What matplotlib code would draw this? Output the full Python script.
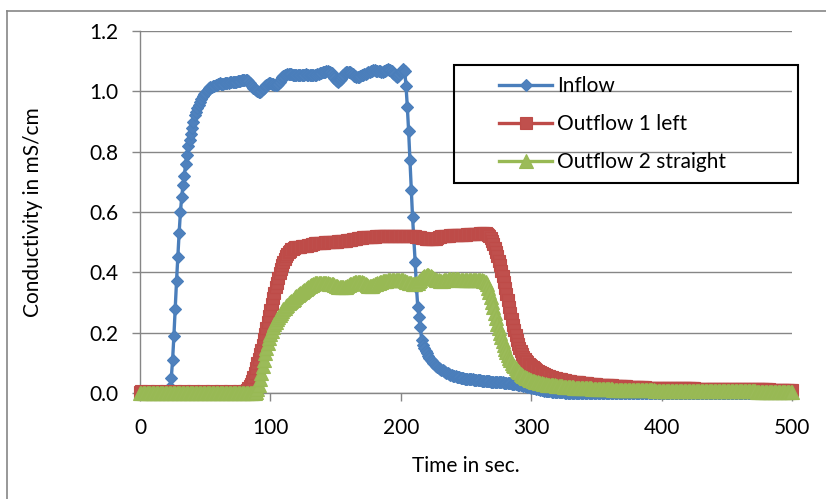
import numpy as np
import matplotlib
matplotlib.use("Agg")
import matplotlib.pyplot as plt
from matplotlib.lines import Line2D
from matplotlib.patches import Rectangle
from matplotlib.ticker import FormatStrFormatter

# ---------------- data (1 s sampling, t = 0 ... 500 s) ----------------
time_s = np.arange(0, 501)

x_ticks = [0, 100, 200, 300, 400, 500]
y_ticks = [0.0, 0.2, 0.4, 0.6, 0.8, 1.0, 1.2]
series_names = ["Inflow", "Outflow 1 left", "Outflow 2 straight"]

# Inflow
inflow_base = [
    0.000, 0.000, 0.000, 0.000, 0.000, 0.000, 0.000, 0.000, 0.000, 0.000,
    0.000, 0.000, 0.000, 0.000, 0.000, 0.000, 0.000, 0.000, 0.000, 0.000,
    0.000, 0.000]
inflow_rise = [
    0.005, 0.020, 0.050, 0.110, 0.190, 0.280, 0.370, 0.450, 0.530, 0.600,
    0.650, 0.690, 0.720, 0.760, 0.790, 0.820, 0.840, 0.860, 0.880, 0.900,
    0.920, 0.930, 0.945, 0.955, 0.965, 0.975, 0.985, 0.990, 0.995, 1.000,
    1.005, 1.010, 1.013]
inflow_plateau = [
    1.015, 1.017, 1.018, 1.020, 1.022, 1.024,
    1.026, 1.025, 1.024, 1.025, 1.027, 1.028, 1.027, 1.028, 1.030, 1.031,
    1.032, 1.030, 1.031, 1.032, 1.033, 1.034, 1.035, 1.036, 1.037, 1.038,
    1.038, 1.037, 1.033, 1.028, 1.022, 1.017, 1.012, 1.008, 1.004, 1.001,
    0.999, 0.998, 1.002, 1.007, 1.012, 1.017, 1.021, 1.024, 1.026, 1.026,
    1.025, 1.023, 1.022, 1.021, 1.020, 1.025, 1.032, 1.040, 1.046, 1.050,
    1.053, 1.055, 1.056, 1.057, 1.057, 1.056, 1.055, 1.055, 1.054, 1.054,
    1.053, 1.053, 1.054, 1.054, 1.054, 1.055, 1.056, 1.055, 1.054, 1.053,
    1.053, 1.053, 1.054, 1.055, 1.055, 1.056, 1.058, 1.060, 1.062, 1.063,
    1.064, 1.065, 1.066, 1.066, 1.065, 1.065, 1.060, 1.052, 1.044, 1.038,
    1.034, 1.032, 1.036, 1.042, 1.049, 1.055, 1.060, 1.063, 1.065, 1.065,
    1.063, 1.060, 1.056, 1.052, 1.050, 1.049, 1.048, 1.049, 1.051, 1.053,
    1.055, 1.057, 1.059, 1.061, 1.063, 1.065, 1.067, 1.069, 1.070, 1.070,
    1.069, 1.068, 1.067, 1.066, 1.065, 1.065, 1.066, 1.068, 1.071, 1.073,
    1.072, 1.070, 1.066, 1.061, 1.056, 1.051, 1.048, 1.050, 1.056, 1.063,
    1.069, 1.073, 1.068]
inflow_fall = [
    1.018, 0.949, 0.868, 0.772, 0.673, 0.584, 0.510, 0.435, 0.352, 0.286,
    0.253, 0.220, 0.176]
inflow_tail = [
    0.160, 0.150, 0.140, 0.131, 0.124, 0.117, 0.111, 0.105, 0.100, 0.095,
    0.091, 0.087, 0.083, 0.079,
    0.077, 0.075, 0.072, 0.070, 0.067, 0.065, 0.063, 0.061, 0.059, 0.057,
    0.056, 0.055, 0.054, 0.053, 0.052, 0.051, 0.050, 0.049, 0.048, 0.047,
    0.047, 0.046, 0.046, 0.045, 0.045, 0.044, 0.044, 0.043, 0.043, 0.042,
    0.042, 0.041, 0.041, 0.040, 0.040, 0.040, 0.039, 0.039, 0.038, 0.038,
    0.038, 0.037, 0.037, 0.036, 0.036, 0.036, 0.035, 0.035, 0.034, 0.034,
    0.033, 0.033, 0.032, 0.032, 0.031, 0.031, 0.030, 0.029, 0.029, 0.028,
    0.027, 0.026, 0.025, 0.024, 0.023, 0.022, 0.021, 0.020, 0.019, 0.018,
    0.017, 0.016, 0.015, 0.014, 0.013, 0.012, 0.011, 0.010, 0.009, 0.008,
    0.007, 0.006, 0.006, 0.005, 0.005, 0.004, 0.004, 0.003, 0.003, 0.003,
    0.002, 0.002, 0.002, 0.002, 0.002, 0.001, 0.001, 0.001, 0.001, 0.001]
inflow_end = [
    0.000, 0.000, 0.000, 0.000, 0.000, 0.000, 0.000, 0.000, 0.000, 0.000,
    0.000, 0.000, 0.000, 0.000, 0.000, 0.000, 0.000, 0.000, 0.000, 0.000,
    0.000, 0.000, 0.000, 0.000, 0.000, 0.000, 0.000, 0.000, 0.000, 0.000,
    0.000, 0.000, 0.000, 0.000, 0.000, 0.000, 0.000, 0.000, 0.000, 0.000,
    0.000, 0.000, 0.000, 0.000, 0.000, 0.000, 0.000, 0.000, 0.000, 0.000,
    0.000, 0.000, 0.000, 0.000, 0.000, 0.000, 0.000, 0.000, 0.000, 0.000,
    0.000, 0.000, 0.000, 0.000, 0.000, 0.000, 0.000, 0.000, 0.000, 0.000,
    0.000, 0.000, 0.000, 0.000, 0.000, 0.000, 0.000, 0.000, 0.000, 0.000,
    0.000, 0.000, 0.000, 0.000, 0.000, 0.000, 0.000, 0.000, 0.000, 0.000,
    0.000, 0.000, 0.000, 0.000, 0.000, 0.000, 0.000, 0.000, 0.000, 0.000,
    0.000, 0.000, 0.000, 0.000, 0.000, 0.000, 0.000, 0.000, 0.000, 0.000,
    0.000, 0.000, 0.000, 0.000, 0.000, 0.000, 0.000, 0.000, 0.000, 0.000,
    0.000, 0.000, 0.000, 0.000, 0.000, 0.000, 0.000, 0.000, 0.000, 0.000,
    0.000, 0.000, 0.000, 0.000, 0.000, 0.000, 0.000, 0.000, 0.000, 0.000,
    0.000, 0.000, 0.000, 0.000, 0.000, 0.000, 0.000, 0.000, 0.000, 0.000,
    0.000, 0.000, 0.000, 0.000, 0.000, 0.000, 0.000, 0.000, 0.000, 0.000,
    0.000, 0.000, 0.000, 0.000, 0.000, 0.000, 0.000, 0.000, 0.000, 0.000]

# Outflow 1 left
out1_base = [
    0.004, 0.005, 0.004, 0.004, 0.003, 0.004, 0.005, 0.004, 0.004, 0.004,
    0.003, 0.004, 0.004, 0.005, 0.004, 0.004, 0.004, 0.003, 0.004, 0.004,
    0.005, 0.004, 0.004, 0.004, 0.003, 0.004, 0.004, 0.005, 0.004, 0.004,
    0.004, 0.003, 0.004, 0.004, 0.005, 0.004, 0.004, 0.004, 0.003, 0.004,
    0.004, 0.005, 0.004, 0.004, 0.004, 0.003, 0.004, 0.004, 0.005, 0.004,
    0.004, 0.004, 0.003, 0.004, 0.004, 0.005, 0.004, 0.004, 0.004, 0.003,
    0.004, 0.004, 0.005, 0.004, 0.004, 0.004, 0.003, 0.004, 0.004, 0.005,
    0.004, 0.004, 0.004, 0.003, 0.004, 0.004, 0.005, 0.004, 0.004, 0.004,
    0.005]
out1_rise = [
    0.006, 0.010, 0.015, 0.022, 0.030, 0.040, 0.052, 0.066, 0.082, 0.098,
    0.113, 0.128, 0.143, 0.160, 0.178, 0.196, 0.215, 0.235, 0.255, 0.275,
    0.295, 0.315, 0.333, 0.350, 0.366, 0.382, 0.397, 0.411, 0.424, 0.435,
    0.445, 0.454, 0.461, 0.467, 0.472, 0.476, 0.479, 0.481, 0.483, 0.484]
out1_plateau = [
    0.484, 0.485, 0.485, 0.486, 0.486, 0.487, 0.487, 0.488, 0.489, 0.490,
    0.492, 0.494, 0.495, 0.496, 0.496, 0.497, 0.497, 0.497, 0.498, 0.498,
    0.498, 0.499, 0.499, 0.500, 0.500, 0.500, 0.501, 0.501, 0.502, 0.502,
    0.502, 0.503, 0.503, 0.503, 0.504, 0.504, 0.505, 0.505, 0.506, 0.506,
    0.507, 0.508, 0.509, 0.510, 0.511, 0.512, 0.513, 0.514, 0.515, 0.515,
    0.516, 0.516, 0.516, 0.517, 0.517, 0.517, 0.518, 0.518, 0.518, 0.518,
    0.519, 0.519, 0.519, 0.519, 0.520, 0.520, 0.520, 0.520, 0.520, 0.521,
    0.521, 0.521, 0.521, 0.521, 0.522, 0.522, 0.522, 0.522, 0.522, 0.522,
    0.522, 0.522, 0.521, 0.521, 0.521, 0.520, 0.520, 0.520, 0.520, 0.519,
    0.519, 0.518, 0.518, 0.517, 0.516, 0.515, 0.514, 0.513, 0.512, 0.511,
    0.511, 0.510, 0.510, 0.510, 0.510, 0.511, 0.512, 0.514, 0.516, 0.518,
    0.519, 0.520, 0.521, 0.521, 0.522, 0.522, 0.522, 0.523, 0.523, 0.523,
    0.523, 0.523, 0.524, 0.524, 0.524, 0.524, 0.525, 0.525, 0.525, 0.525,
    0.526, 0.526, 0.526, 0.526, 0.527, 0.527, 0.527, 0.528, 0.528, 0.528,
    0.529, 0.529, 0.530, 0.530, 0.529]
out1_fall = [
    0.528, 0.525, 0.520, 0.513, 0.504,
    0.493, 0.481, 0.468, 0.454, 0.439, 0.423, 0.406, 0.388, 0.369, 0.349,
    0.328, 0.307, 0.286, 0.266, 0.246, 0.227, 0.209, 0.192, 0.176, 0.162,
    0.149, 0.138, 0.128, 0.120, 0.113, 0.107, 0.102, 0.097, 0.093, 0.089,
    0.085, 0.082, 0.079, 0.076, 0.073, 0.071, 0.068, 0.066, 0.064, 0.062,
    0.060, 0.058, 0.057, 0.055, 0.054, 0.052, 0.051, 0.050, 0.049, 0.048,
    0.047, 0.046, 0.045, 0.044, 0.043, 0.042, 0.041, 0.041, 0.040, 0.039]
out1_tail = [
    0.038, 0.038, 0.037, 0.036, 0.036, 0.035, 0.035, 0.034, 0.034, 0.033,
    0.033, 0.032, 0.032, 0.031, 0.031, 0.030, 0.030, 0.030, 0.029, 0.029,
    0.028, 0.028, 0.028, 0.027, 0.027, 0.027, 0.026, 0.026, 0.026, 0.025,
    0.025, 0.025, 0.024, 0.024, 0.024, 0.023, 0.023, 0.023, 0.023, 0.022,
    0.022, 0.022, 0.022, 0.021, 0.021, 0.021, 0.021, 0.020, 0.020, 0.020,
    0.020, 0.020, 0.019, 0.019, 0.019, 0.019, 0.019, 0.018, 0.018, 0.018,
    0.018, 0.018, 0.018, 0.017, 0.017, 0.017, 0.017, 0.017, 0.017, 0.017,
    0.016, 0.016, 0.016, 0.016, 0.016, 0.016, 0.016, 0.016, 0.016, 0.016,
    0.016, 0.016, 0.016, 0.015, 0.015, 0.015, 0.015, 0.015, 0.015, 0.015,
    0.015, 0.015, 0.015, 0.015, 0.015, 0.014, 0.014, 0.014, 0.014, 0.005,
    0.014, 0.014, 0.014, 0.014, 0.014, 0.014, 0.014, 0.014, 0.014, 0.014,
    0.014, 0.014, 0.013, 0.013, 0.013, 0.013, 0.013, 0.013, 0.013, 0.013,
    0.013, 0.013, 0.013, 0.013, 0.013, 0.013, 0.013, 0.013, 0.013, 0.013,
    0.013, 0.013, 0.012, 0.012, 0.012, 0.012, 0.012, 0.012, 0.012, 0.012,
    0.012, 0.012, 0.012, 0.012, 0.012, 0.012, 0.012, 0.012, 0.012, 0.012,
    0.012, 0.012, 0.011, 0.011, 0.011, 0.011, 0.011, 0.011, 0.011, 0.011,
    0.011, 0.011, 0.011, 0.011, 0.011, 0.011, 0.011, 0.011, 0.011, 0.011]

# Outflow 2 straight
out2_base = [
    0.001, 0.000, 0.001, 0.001, 0.000, 0.001, 0.000, 0.001, 0.001, 0.000,
    0.001, 0.000, 0.001, 0.001, 0.000, 0.001, 0.000, 0.001, 0.001, 0.000,
    0.001, 0.000, 0.001, 0.001, 0.000, 0.001, 0.000, 0.001, 0.001, 0.000,
    0.001, 0.000, 0.001, 0.001, 0.000, 0.001, 0.000, 0.001, 0.001, 0.000,
    0.001, 0.000, 0.001, 0.001, 0.000, 0.001, 0.000, 0.001, 0.001, 0.000,
    0.001, 0.000, 0.001, 0.001, 0.000, 0.001, 0.000, 0.001, 0.001, 0.000,
    0.001, 0.000, 0.001, 0.001, 0.000, 0.001, 0.000, 0.001, 0.001, 0.000,
    0.001, 0.000, 0.001, 0.001, 0.000, 0.001, 0.000, 0.001, 0.001, 0.000,
    0.001, 0.000, 0.001, 0.001, 0.000, 0.001, 0.000, 0.001, 0.001]
out2_rise = [
    0.004, 0.012,
    0.026, 0.045, 0.066, 0.088, 0.110, 0.131, 0.150, 0.167, 0.182, 0.195,
    0.207, 0.218, 0.228, 0.237, 0.245, 0.252, 0.259, 0.265, 0.271, 0.277,
    0.282, 0.287, 0.292, 0.297, 0.301, 0.305, 0.309, 0.313, 0.317, 0.321,
    0.325, 0.329, 0.332, 0.336, 0.339, 0.342, 0.345, 0.348, 0.351, 0.354,
    0.357, 0.359, 0.361, 0.363, 0.364, 0.365]
out2_plateau = [
    0.365, 0.366, 0.366, 0.365,
    0.364, 0.364, 0.363, 0.363, 0.362, 0.362, 0.361, 0.360, 0.358, 0.356,
    0.354, 0.352, 0.351, 0.350, 0.350, 0.350, 0.351, 0.353, 0.355, 0.358,
    0.360, 0.362, 0.364, 0.366, 0.367, 0.368, 0.368, 0.368, 0.368, 0.367,
    0.366, 0.364, 0.361, 0.358, 0.356, 0.355, 0.355, 0.356, 0.358, 0.360,
    0.362, 0.364, 0.366, 0.368, 0.369, 0.370, 0.371, 0.372, 0.372, 0.373,
    0.373, 0.374, 0.374, 0.375, 0.375, 0.376, 0.376, 0.376, 0.376, 0.375,
    0.374, 0.373, 0.371, 0.369, 0.367, 0.366, 0.364, 0.363, 0.362, 0.362,
    0.362, 0.363, 0.366, 0.370, 0.375, 0.380, 0.384, 0.387, 0.389, 0.390,
    0.390, 0.389, 0.387, 0.384, 0.381, 0.378, 0.376, 0.374, 0.373, 0.372,
    0.372, 0.372, 0.373, 0.374, 0.375, 0.376, 0.377, 0.378, 0.378, 0.378,
    0.378, 0.378, 0.377, 0.377, 0.376, 0.376, 0.375, 0.375, 0.375, 0.374,
    0.374, 0.374, 0.374, 0.373, 0.373, 0.373, 0.373, 0.373, 0.373, 0.373,
    0.373, 0.373, 0.372, 0.372]
out2_fall = [
    0.368, 0.360, 0.349, 0.335, 0.319, 0.302,
    0.284, 0.266, 0.248, 0.230, 0.214, 0.200, 0.186, 0.172, 0.159, 0.147,
    0.136, 0.126, 0.117, 0.109, 0.101, 0.094, 0.088, 0.082, 0.077, 0.072,
    0.068, 0.064, 0.060, 0.057, 0.054, 0.051, 0.049, 0.046, 0.044, 0.042,
    0.040, 0.039, 0.037, 0.036, 0.035, 0.034, 0.033, 0.032, 0.031, 0.030,
    0.029, 0.028, 0.028, 0.027, 0.026, 0.026, 0.025, 0.025, 0.024, 0.024,
    0.023, 0.023, 0.022, 0.022, 0.021, 0.021, 0.021, 0.020, 0.020, 0.019]
out2_tail = [
    0.019, 0.019, 0.018, 0.018, 0.018, 0.017, 0.017, 0.017, 0.016, 0.016,
    0.016, 0.016, 0.015, 0.015, 0.015, 0.015, 0.014, 0.014, 0.014, 0.014,
    0.014, 0.013, 0.013, 0.013, 0.013, 0.013, 0.012, 0.012, 0.012, 0.012,
    0.012, 0.012, 0.011, 0.011, 0.011, 0.011, 0.011, 0.011, 0.011, 0.010,
    0.010, 0.010, 0.010, 0.010, 0.010, 0.010, 0.010, 0.010, 0.010, 0.010,
    0.010, 0.010, 0.009, 0.009, 0.009, 0.009, 0.009, 0.009, 0.009, 0.009,
    0.009, 0.009, 0.009, 0.009, 0.008, 0.008, 0.008, 0.008, 0.008, 0.008,
    0.008, 0.008, 0.008, 0.008, 0.008, 0.008, 0.008, 0.008, 0.008, 0.008,
    0.008, 0.008, 0.007, 0.007, 0.007, 0.007, 0.007, 0.007, 0.007, 0.007,
    0.007, 0.007, 0.007, 0.007, 0.007, 0.007, 0.007, 0.007, 0.007, 0.007,
    0.007, 0.007, 0.006, 0.006, 0.006, 0.006, 0.006, 0.006, 0.006, 0.006,
    0.006, 0.006, 0.006, 0.006, 0.006, 0.006, 0.006, 0.006, 0.006, 0.006,
    0.006, 0.006, 0.005, 0.005, 0.005, 0.005, 0.005, 0.005, 0.005, 0.005,
    0.005, 0.005, 0.005, 0.005, 0.005, 0.005, 0.005, 0.005, 0.005, 0.005,
    0.005, 0.005, 0.004, 0.004, 0.004, 0.004, 0.004, 0.004, 0.004, 0.004,
    0.004, 0.004, 0.004, 0.004, 0.004, 0.004, 0.004, 0.004, 0.004, 0.004,
    0.004, 0.004, 0.003, 0.003, 0.003, 0.003, 0.003, 0.003, 0.003, 0.003]

inflow = np.array(inflow_base + inflow_rise + inflow_plateau + inflow_fall
                  + inflow_tail + inflow_end)
outflow1 = np.array(out1_base + out1_rise + out1_plateau + out1_fall + out1_tail)
outflow2 = np.array(out2_base + out2_rise + out2_plateau + out2_fall + out2_tail)

# ---------------- figure ----------------
plt.rcParams['font.family'] = ['Lato', 'DejaVu Sans']
FS = 15
GRID = '#868686'

W, H = 826, 499
fig = plt.figure(figsize=(W / 100, H / 100), dpi=100)
ax = fig.add_axes([140 / W, (H - 393) / H, 652 / W, 362 / H])

ax.plot(time_s, inflow, color='#4A7EBB', lw=2.4, marker='D', ms=6.5,
        mfc='#4F81BD', mec='#4A7EBB', mew=0.8, clip_on=False, zorder=3,
        label=series_names[0])
ax.plot(time_s, outflow1, color='#BE4B48', lw=2.4, marker='s', ms=8.5,
        mfc='#C0504D', mec='#BE4B48', mew=0.8, clip_on=False, zorder=4,
        label=series_names[1])
ax.plot(time_s, outflow2, color='#98B954', lw=2.4, marker='^', ms=9.5,
        mfc='#9BBB59', mec='#98B954', mew=0.8, clip_on=False, zorder=5,
        label=series_names[2])

ax.set_xlim(0, 500)
ax.set_ylim(0, 1.2)
ax.set_xticks(x_ticks)
ax.set_yticks(y_ticks)
ax.yaxis.set_major_formatter(FormatStrFormatter('%.1f'))
ax.yaxis.grid(True, color=GRID, lw=1.0)
ax.set_axisbelow(True)
for s in ('top', 'right'):
    ax.spines[s].set_visible(False)
for s in ('left', 'bottom'):
    ax.spines[s].set_color(GRID)
    ax.spines[s].set_linewidth(1.0)
ax.tick_params(axis='both', direction='out', length=5.8, width=1.0,
               color=GRID, labelsize=FS, labelcolor='black')
ax.tick_params(axis='y', pad=10)
ax.tick_params(axis='x', pad=12)

ax.set_xlabel('Time in sec.', fontsize=FS)
ax.set_ylabel('Conductivity in mS/cm', fontsize=FS)
ax.xaxis.set_label_coords(0.5, -(456 - 393) / 362)
ax.yaxis.set_label_coords(-(140 - 43) / 652, 0.5)

# legend (frame drawn as a separate box)
leg = ax.legend(loc='upper left', bbox_to_anchor=((499 - 140) / 652, (393 - 76) / 362),
                frameon=False, fontsize=FS, borderpad=0, borderaxespad=0,
                handlelength=2.55, handletextpad=0.25, labelspacing=0.87)
ax.add_patch(Rectangle(((454 - 140) / 652, (393 - 183) / 362),
                       (798 - 454) / 652, (183 - 65) / 362,
                       transform=ax.transAxes, fill=False, edgecolor='black',
                       lw=1.5, clip_on=False, zorder=6))

# outer chart-area border (only left and top edges are inside the picture)
fig.add_artist(Line2D([7 / W, 7 / W], [0, 1 - 11 / H], color=GRID, lw=1.2))
fig.add_artist(Line2D([7 / W, 1], [1 - 11 / H, 1 - 11 / H], color=GRID, lw=1.2))

fig.savefig('out.png', dpi=100)
